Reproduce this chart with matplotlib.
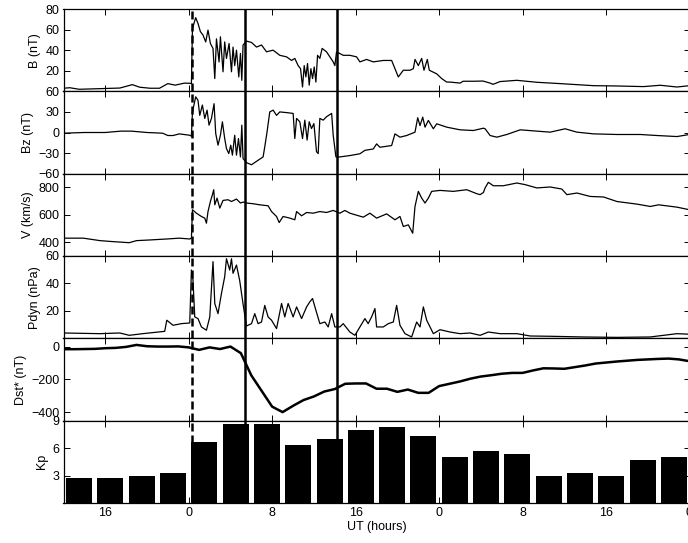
import numpy as np
import matplotlib
matplotlib.use("Agg")
import matplotlib.pyplot as plt

plt.rcParams['font.family'] = ['Liberation Sans', 'DejaVu Sans']
plt.rcParams['font.size'] = 9

# hours relative to 00 UT of the shock day
b_t = [-12, -11.4, -10.5, -8.5, -6.6, -5.4, -4.7, -3.7, -2.8, -2.0, -1.3, -0.4, 0.1, 0.26,
       0.36, 0.67, 0.89, 1.12, 1.37, 1.63, 1.85, 2.08, 2.33, 2.5, 2.66, 2.91, 3.04, 3.29,
       3.45, 3.62, 3.87, 4.1, 4.25, 4.41, 4.58, 4.8, 4.96, 5.09, 5.21, 5.54, 6.02, 6.5,
       6.98, 7.46, 8.09, 8.73, 9.38, 9.86, 10.17, 10.49, 10.72, 10.91, 11.07, 11.23, 11.39,
       11.55, 11.71, 11.87, 12.03, 12.19, 12.35, 12.57, 12.79, 13.21, 13.53, 13.85, 14.01,
       14.17, 14.81, 15.45, 16.09, 16.41, 17.05, 17.69, 18.65, 19.45, 19.77, 20.09, 20.57,
       21.21, 21.53, 21.69, 22.01, 22.33, 22.55, 22.87, 23.06, 23.77, 24.25, 24.73, 25.05,
       26.01, 26.3, 27.29, 28.21, 28.89, 29.17, 29.85, 31.45, 33.37, 35.6, 38.8, 41.05,
       43.6, 45.2, 46.8, 48]
b_val = [3, 3.5, 2, 2.6, 3.2, 6.5, 4, 3, 3, 7.5, 6, 8, 7.8, 7.5,
         61, 71.6, 66, 58, 54.7, 48, 59.5, 46.5, 41.7, 12.4, 51, 28.6, 53, 19,
         48, 32, 46.5, 19, 43, 25, 40, 14, 36.8, 10.7, 45, 48.8, 47.5, 43,
         45, 38.4, 40, 35, 33.5, 30, 32, 25, 22, 4.2, 25, 14, 27,
         6, 22, 12.4, 23.7, 9, 35, 32, 41.7, 38.4, 33.5, 28.6, 25,
         38.4, 35, 35, 33.5, 28.6, 31, 28.6, 30, 30, 22, 14, 20.5,
         20.5, 22, 31, 25, 32, 20.5, 31, 20.5, 17, 12.4, 9, 9,
         8, 9.8, 9.8, 10, 8, 6.8, 9.5, 10.7, 8.8, 7.5, 5.5, 5.2,
         4.6, 5.9, 4.2, 5.5]

bz_t = [-12, -10, -8, -6.5, -5.5, -4, -2.5, -2.0, -1.5, -0.9, 0.1, 0.26,
        0.36, 0.67, 0.89, 1.06, 1.31, 1.54, 1.76, 1.95, 2.18, 2.43, 2.59, 2.81, 3.04, 3.23,
        3.45, 3.62, 3.84, 4.03, 4.19, 4.41, 4.58, 4.77, 4.96, 5.09, 5.21, 5.54, 6.02, 6.65,
        7.13, 7.29, 7.51, 7.77, 8.09, 8.42, 8.73, 9.38, 10.01, 10.17, 10.34, 10.65, 10.91,
        11.13, 11.35, 11.55, 11.77, 12.0, 12.25, 12.41, 12.57, 12.89, 13.21, 13.7, 13.85,
        14.11, 14.49, 15.45, 16.41, 16.89, 17.69, 18.01, 18.33, 19.45, 19.77, 20.25, 20.89,
        21.69, 21.95, 22.17, 22.43, 22.65, 22.97, 23.45, 23.77, 24.73, 26.01, 27.29, 28.25,
        28.41, 28.89, 29.53, 30.49, 31.77, 33.37, 34.64, 36.08, 37.21, 38.8, 41.05, 43.28,
        44.89, 46.8, 48]
bz_val = [-1, 0, 0, 2, 2, 0, -1, -4.4, -4.4, -2, -4, -5.4,
          30, 52, 47, 25, 40, 20.5, 32.6, 10.7, 20.5, 42, -1.5, -18.5, -4, 15.6,
          -8.8, -23.4, -30.7, -18.5, -33, -4, -33, -8.8, -35.6, 10.7, -38, -44, -47, -40.5,
          -35.6, -21, 1, 30, 32.6, 25, 30, 29, 27.8, -8.8, 20.5, 15.6, -8.8,
          18, -11, 15.6, 5.8, 13, -28, -30.7, 20.5, 18, 23, 27.8, -4,
          -35.6, -35.6, -33.6, -31, -26, -24, -16.6, -21.5, -19, -2, -6.8, -4.4,
          0.5, 21.5, 10, 22.4, 7.8, 17.6, 5.4, 12.7, 7.8, 3.9, 2.9, 6.3,
          5.4, -4.4, -6.8, -2.9, 3.9, 2, 0.5, 5.4, 0.5, -2, -2.9, -2.9,
          -4.4, -5.9, -2.9]

v_t = [-12, -10.1, -8.5, -7.3, -5.7, -5.0, -3.7, -2.1, -0.9, 0.1, 0.26,
       0.36, 0.74, 1.22, 1.54, 1.7, 1.85, 2.08, 2.27, 2.4, 2.5, 2.72, 2.98, 3.29, 3.77,
       4.1, 4.58, 4.96, 5.21, 5.54, 6.17, 6.81, 7.61, 7.94, 8.42, 8.67, 9.05, 9.69, 10.17,
       10.34, 10.82, 11.3, 11.93, 12.57, 13.21, 13.85, 14.49, 14.97, 15.45, 16.73, 17.37,
       18.01, 18.97, 19.77, 20.25, 20.57, 21.05, 21.47, 21.69, 22.01, 22.33, 22.65, 22.97,
       23.29, 24.09, 25.37, 26.65, 27.61, 27.93, 28.25, 28.41, 28.72, 29.2, 30.16, 31.45,
       32.25, 33.37, 34.64, 35.76, 36.25, 37.21, 38.48, 39.76, 41.05, 42.97, 44.24, 45.04,
       46.8, 48]
v_val = [430, 430, 412, 405, 397, 412, 417, 424, 430, 424, 430,
         637, 612, 588, 576, 539, 624, 697, 746, 783, 673, 722, 649, 705, 710,
         697, 715, 686, 693, 686, 681, 673, 666, 624, 588, 544, 588, 576, 564,
         624, 593, 617, 612, 624, 617, 632, 612, 632, 612, 583, 612,
         576, 607, 564, 588, 515, 527, 466, 661, 771, 722, 686, 722,
         771, 778, 771, 783, 754, 747, 763, 796, 837, 812, 812, 832,
         820, 796, 803, 788, 747, 759, 734, 730, 697, 678, 661, 673,
         656, 637]

p_t = [-12, -8.5, -6.6, -5.7, -4.4, -2.3, -2.1, -1.5, -0.7, 0.1, 0.26, 0.41, 0.58,
       0.89, 1.22, 1.7, 2.02, 2.33, 2.5, 2.81, 3.14, 3.45, 3.62, 3.93, 4.1, 4.25, 4.58,
       4.89, 5.21, 5.54, 6.02, 6.33, 6.65, 6.98, 7.29, 7.61, 7.94, 8.42, 8.9, 9.21, 9.53,
       10.01, 10.34, 10.82, 11.3, 11.61, 11.87, 12.19, 12.57, 13.05, 13.37, 13.7, 14.01,
       14.49, 14.81, 15.45, 15.93, 16.41, 16.89, 17.2, 17.53, 17.85, 18.01, 18.65, 19.13,
       19.61, 19.93, 20.25, 20.73, 21.37, 21.85, 22.17, 22.49, 22.81, 23.13, 23.45, 24.09,
       25.05, 26.01, 26.97, 27.93, 28.72, 29.85, 31.45, 32.73, 34.64, 37.84, 41.05, 44.24,
       46.8, 48]
p_val = [3.9, 3.4, 3.9, 2.2, 3.4, 5.1, 13.2, 9.5, 10.7, 11.2, 49.8, 42.5, 15.6,
         14.4, 8.3, 5.9, 15.6, 55.9, 25.4, 18, 32.7, 44.9, 58, 49.8, 58, 47.4, 53.4,
         42, 25, 9, 10.7, 18, 10.7, 11.9, 24, 15.6, 13.2, 7.1, 25.4, 15.6, 25.4,
         15.6, 22.9, 14.4, 22.9, 26.6, 29, 20.5, 10.7, 11.9, 8.3, 18, 8.3,
         8.3, 10.7, 4.6, 2.2, 8.3, 14.4, 10.7, 15.6, 21.7, 8.3, 8.3, 10.7,
         11.9, 24, 9.5, 3.4, 1, 11.9, 8.3, 22.9, 13.2, 8.3, 3.4, 6.3,
         4.6, 3.4, 3.9, 2.2, 4.6, 3.4, 3.4, 1.7, 1.5, 1, 0.7, 1,
         3.4, 3]

dst_t = np.arange(-12, 49)
dst_val = [-16, -16, -15, -14, -10, -8, -2, 10, 2, 0, 0, 1, -5, -20, -5, -15, 0, -40,
           -175, -270, -365, -398, -360, -325, -303, -273, -258, -226, -224, -224, -256,
           -256, -275, -261, -281, -281, -240, -226, -212, -195, -182, -174, -165, -160,
           -160, -145, -132, -133, -135, -125, -115, -103, -97, -91, -86, -81, -78, -75,
           -73, -78, -89]

kp_t = [-10.5, -7.5, -4.5, -1.5, 1.5, 4.5, 7.5, 10.5, 13.5, 16.5, 19.5, 22.5,
        25.5, 28.5, 31.5, 34.5, 37.5, 40.5, 43.5, 46.5]
kp_val = [2.7, 2.7, 3.0, 3.33, 6.67, 8.67, 8.67, 6.33, 7.0, 8.0, 8.33, 7.33,
          5.0, 5.67, 5.33, 3.0, 3.33, 3.0, 4.67, 5.0]

shock_t = 0.3
marks_t = [5.4, 14.2]

xticks = [-8, 0, 8, 16, 24, 32, 40, 48]
xticklabels = ['16', '0', '8', '16', '0', '8', '16', '0']

panels = [
    ('B (nT)', (0, 80), [20, 40, 60, 80]),
    ('Bz (nT)', (-60, 60), [-60, -30, 0, 30, 60]),
    ('V (km/s)', (300, 900), [400, 600, 800]),
    ('Pdyn (nPa)', (0, 60), [20, 40, 60]),
    ('Dst* (nT)', (-450, 50), [-400, -200, 0]),
    ('Kp', (0, 9), [3, 6, 9]),
]

fig = plt.figure(figsize=(6.88, 5.43), dpi=100)
left = 63.5 / 688
width = 626 / 688
top = 1 - 9 / 543
h = 494 / 6 / 543

axes = []
for i, (lab, lim, yt) in enumerate(panels):
    ax = fig.add_axes([left, top - (i + 1) * h, width, h])
    ax.set_xlim(-12, 48)
    ax.set_ylim(*lim)
    ax.set_yticks(yt)
    ax.set_ylabel(lab, labelpad=3)
    ax.set_xticks(xticks)
    ax.tick_params(direction='in', top=True, right=True, length=4.3, width=0.7,
                   pad=3, labelsize=9)
    for s in ax.spines.values():
        s.set_linewidth(0.9)
    if i < 5:
        ax.set_xticklabels([])
    else:
        ax.set_xticklabels(xticklabels)
        ax.set_xlabel('UT (hours)', labelpad=1)
    ax.axvline(shock_t, color='k', lw=1.8, dashes=(3.2, 1.6), zorder=2)
    for m in marks_t:
        ax.axvline(m, color='k', lw=1.8, zorder=2)
    axes.append(ax)

axes[0].plot(b_t, b_val, color='k', lw=0.9)
axes[1].plot(bz_t, bz_val, color='k', lw=0.9)
axes[2].plot(v_t, v_val, color='k', lw=0.9)
axes[3].plot(p_t, p_val, color='k', lw=0.9)
axes[4].plot(dst_t, dst_val, color='k', lw=1.8)
axes[5].bar(kp_t, kp_val, width=2.5, color='k', zorder=3)

fig.savefig('out.png', dpi=100)
